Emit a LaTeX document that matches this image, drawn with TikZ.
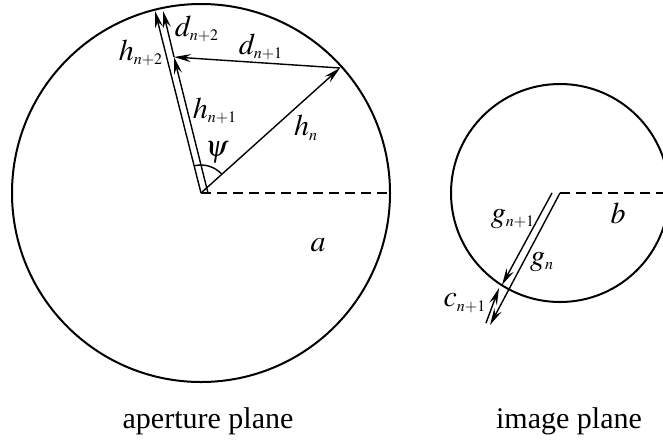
\documentclass[tikz,border=0pt]{standalone}
\usepackage{mathptmx}
\usepackage[no-math]{fontspec}
\setmainfont{Liberation Serif}
\usetikzlibrary{arrows.meta}
\DeclareMathSizes{15}{15}{8}{6}
\tikzset{
  vec/.style={line width=0.7pt,-{Stealth[length=8.5pt,width=4pt,inset=3pt]}},
  rim/.style={line width=1pt},
  rline/.style={line width=0.8pt,dash pattern=on 5pt off 3pt},
  lbl/.style={font=\fontsize{15}{17}\selectfont,inner sep=0pt},
  capt/.style={font=\fontsize{15}{17}\selectfont,inner sep=0pt,anchor=base}
}
\begin{document}
\begin{tikzpicture}[x=0.5pt,y=-0.5pt]
  \clip (0,0) rectangle (663,440);
  % aperture plane
  \coordinate (O) at (201,193);
  \coordinate (Oh) at (208,193);
  \coordinate (A) at (390,193);
  \coordinate (Hn) at (340,68);
  \coordinate (Hn1) at (174,57);
  \coordinate (Hn2) at (155,11);
  \coordinate (Dn2) at (163,11);
  \draw[rim] (O) circle[radius=189];
  \draw[rline] (O) -- (A);
  \draw[vec] (O) -- (Hn);
  \draw[vec] (Hn) -- (Hn1);
  \draw[vec] (Oh) -- (Hn1);
  \draw[vec] (Hn1) -- (Dn2);
  \draw[vec] (O) -- (Hn2);
  \draw[line width=0.7pt] (O) ++(-42:28) arc[start angle=-42,end angle=-104,radius=28];
  \node[lbl] (ldn2) at (197,29) {$d_{n+2}$};
  \node[lbl] (lhn2) at (141,53) {$h_{n+2}$};
  \node[lbl] (ldn1) at (261,47) {$d_{n+1}$};
  \node[lbl] (lhn1) at (215,111) {$h_{n+1}$};
  \node[lbl] (lhn) at (306,128) {$h_n$};
  \node[lbl] (lpsi) at (217,152) {$\psi$};
  \node[lbl] (la) at (318,245) {$a$};
  % image plane
  \coordinate (Q) at (560,193);
  \coordinate (Qg) at (552,193);
  \coordinate (B) at (663,193);
  \coordinate (Gn) at (490,325);
  \coordinate (Gn1) at (502,285);
  \coordinate (Cs) at (486,323);
  \coordinate (Ce) at (499,288);
  \draw[rim] (Q) circle[radius=109];
  \draw[rline] (Q) -- (B);
  \draw[vec] (Q) -- (Gn);
  \draw[vec] (Qg) -- (Gn1);
  \draw[vec] (Cs) -- (Ce);
  \node[lbl] (lgn1) at (513,219) {$g_{n+1}$};
  \node[lbl] (lgn) at (542,262) {$g_n$};
  \node[lbl] (lb) at (618,213) {$b$};
  \node[lbl] (lcn1) at (465,303) {$c_{n+1}$};
  % captions
  \node[capt] (cap1) at (208,428) {aperture plane};
  \node[capt] (cap2) at (569,428) {image plane};
\end{tikzpicture}
\end{document}
